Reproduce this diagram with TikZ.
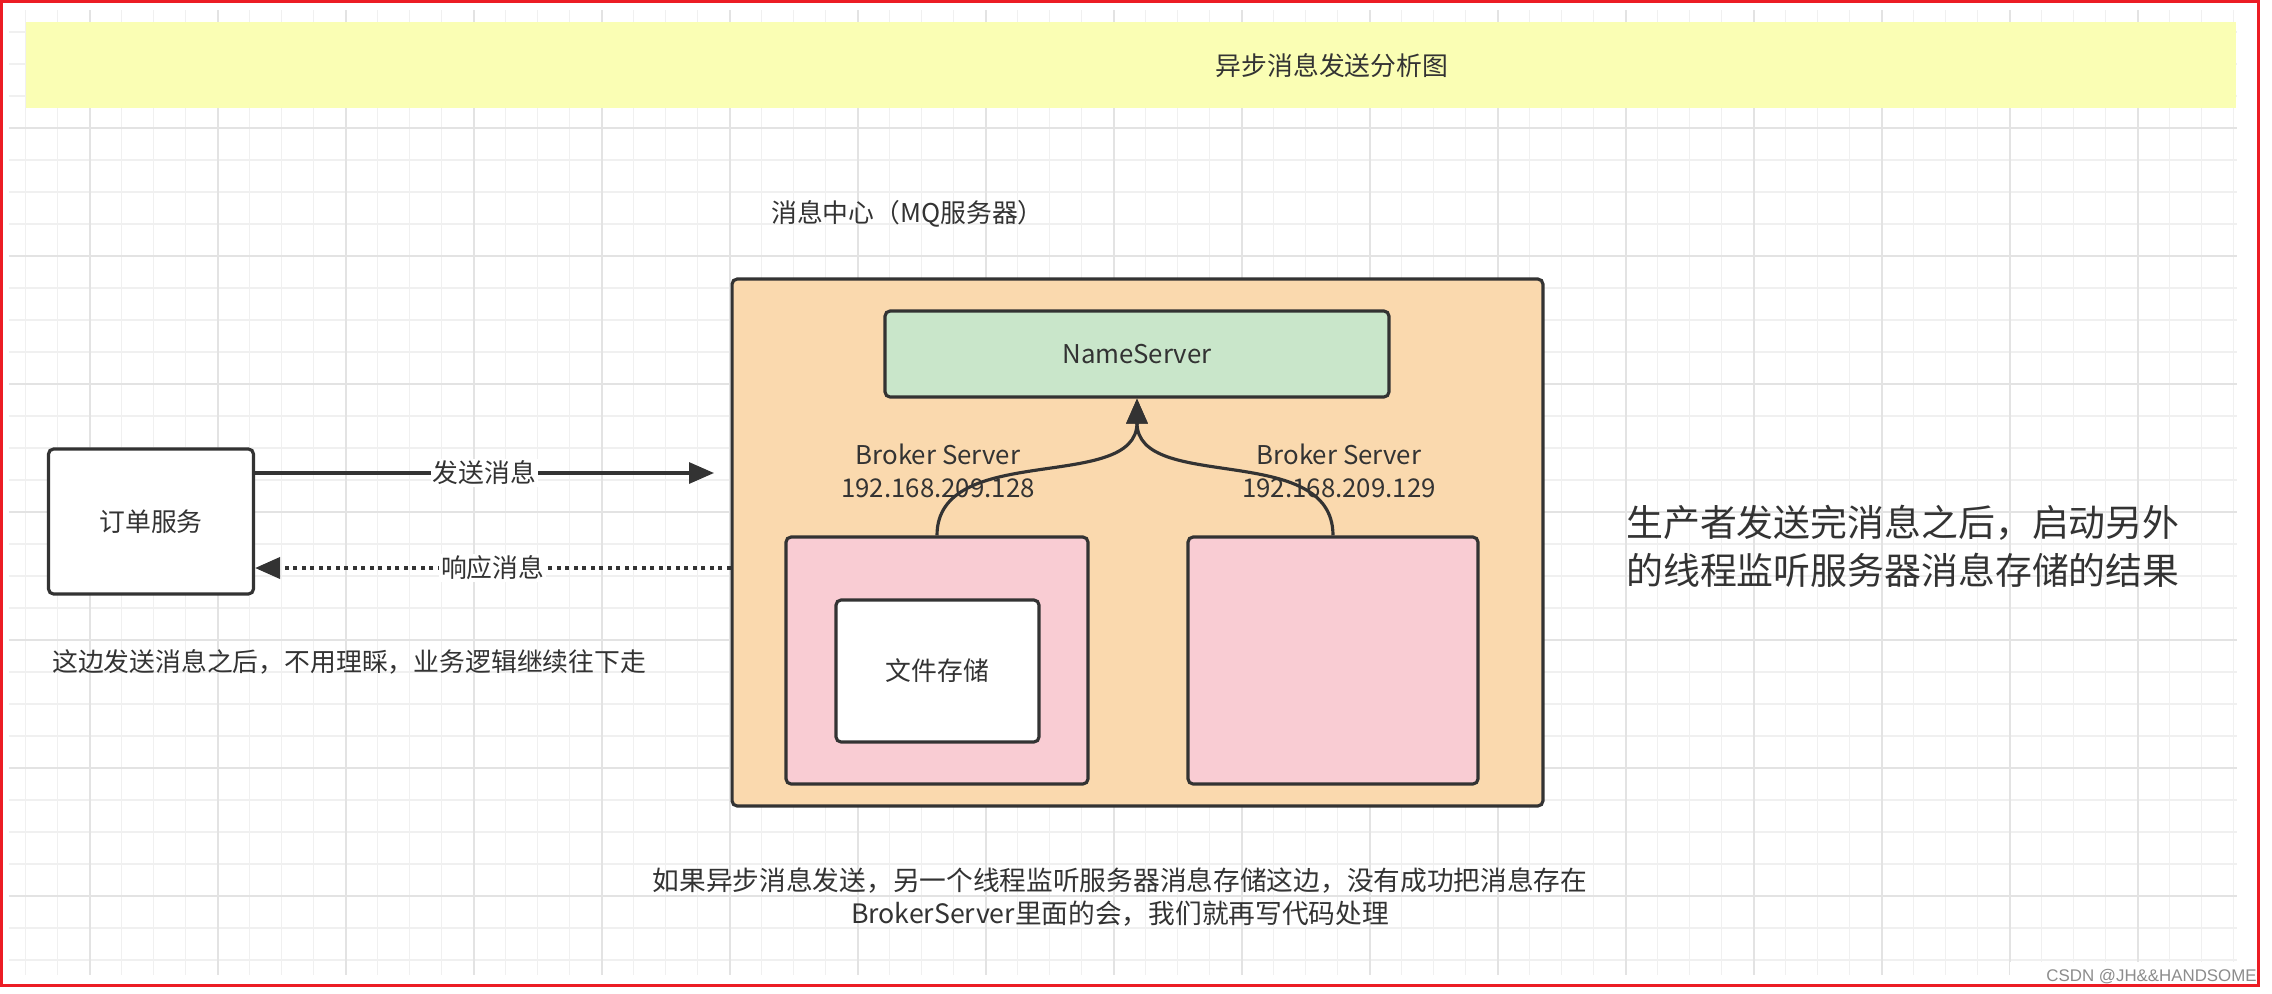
\documentclass[tikz,border=0pt]{standalone}
\usepackage{fontspec}
\setmainfont{Noto Sans CJK SC}
\newfontfamily\filigrane{Liberation Sans}
\usetikzlibrary{arrows.meta}

\definecolor{trait}{HTML}{333333}
\definecolor{bandeau}{HTML}{FAFEB4}
\definecolor{fondmq}{HTML}{FAD9AE}
\definecolor{fondns}{HTML}{C9E6CA}
\definecolor{fondbroker}{HTML}{F9CCD3}
\definecolor{grillefine}{HTML}{F0F0F0}
\definecolor{grillegros}{HTML}{E3E3E3}
\definecolor{cadre}{HTML}{EC1C24}

\begin{document}
\begin{tikzpicture}[x=0.02cm,y=-0.02cm,
  boite/.style={draw=trait,line width=1.8pt,rounded corners=0.1cm,inner sep=0pt},
  texte/.style={text=trait,font=\fontsize{14.7}{19}\selectfont},
  etiq/.style={texte,fill=white,inner sep=1pt},
  fleche/.style={draw=trait,line width=1.8pt,-{Triangle[length=0.5cm,width=0.42cm]}},
  flechepts/.style={fleche,line width=2.2pt,dash pattern=on 0.08cm off 0.09cm}]

\useasboundingbox (0,0) rectangle (2272,994);
\fill[white] (0,0) rectangle (2272,994);

% Grille
\foreach \gx in {0,...,69}
  \draw[grillefine,line width=0.6pt] ({25.5+32*\gx},10) -- ({25.5+32*\gx},975);
\foreach \gy in {1,...,30}
  \draw[grillefine,line width=0.6pt] (9,{32*\gy}) -- (2237,{32*\gy});
\foreach \gx in {0,...,16}
  \draw[grillegros,line width=0.9pt] ({90+128*\gx},10) -- ({90+128*\gx},975);
\foreach \gy in {1,...,7}
  \draw[grillegros,line width=0.9pt] (9,{128*\gy}) -- (2237,{128*\gy});

% Bandeau titre
\fill[bandeau] (26,22) rectangle (2236,108);
\node[texte] (titre) at (1332,66) {异步消息发送分析图};

% Centre de messages
\node[texte,anchor=west] (mqtitre) at (765,214) {消息中心（MQ服务器）};
\node[boite,fill=fondmq,minimum width=16.22cm,minimum height=10.54cm] (mq) at (1137.5,542.5) {};
\node[boite,fill=fondns,minimum width=10.08cm,minimum height=1.72cm,texte] (ns) at (1137,354) {NameServer};
\node[boite,fill=fondbroker,minimum width=6.04cm,minimum height=4.94cm] (b1) at (937,660.5) {};
\node[boite,fill=fondbroker,minimum width=5.8cm,minimum height=4.94cm] (b2) at (1333,660.5) {};
\node[boite,fill=white,minimum width=4.06cm,minimum height=2.84cm,texte] (fs) at (937.5,671) {文件存储};

% Broker vers NameServer
\draw[fleche] (b1.north) .. controls +(0,-95) and +(0,95) .. (ns.south);
\draw[fleche] (b2.north) .. controls +(0,-95) and +(0,95) .. (ns.south);
\node[texte,align=center] (l1) at (938,471) {Broker Server\\192.168.209.128};
\node[texte,align=center] (l2) at (1339,471) {Broker Server\\192.168.209.129};

% Service de commande
\node[boite,fill=white,minimum width=4.1cm,minimum height=2.9cm,texte] (order) at (151,521.5) {订单服务};
\coordinate (envoi) at (714,473);
\coordinate (retour) at (mq.west |- 0,568);
\draw[fleche] (order.east |- envoi) -- node[etiq] (le) {发送消息} (envoi);
\draw[flechepts] (retour) -- node[etiq] (lr) {响应消息} (order.east |- retour);

% Remarques
\node[texte,anchor=west] (note1) at (46,662) {这边发送消息之后，不用理睬，业务逻辑继续往下走};
\node[text=trait,anchor=west,align=left,font=\fontsize{21}{27.2}\selectfont] (note2) at (1620,546)
  {生产者发送完消息之后，启动另外\\的线程监听服务器消息存储的结果};
\node[text=trait,align=center,font=\fontsize{15.2}{18.8}\selectfont] (note3) at (1120,897)
  {如果异步消息发送，另一个线程监听服务器消息存储这边，没有成功把消息存在\\BrokerServer里面的会，我们就再写代码处理};

% Cadre
\fill[white] (2010,962) rectangle (2258,985);
\node[text=black!45,anchor=east,inner sep=0pt,font=\filigrane\fontsize{9.6}{11}\selectfont] (wm) at (2257,977) {CSDN @JH\&\&HANDSOME};
\draw[cadre,line width=1.7pt] (1.5,1.5) rectangle (2258,985);

\end{tikzpicture}
\end{document}
